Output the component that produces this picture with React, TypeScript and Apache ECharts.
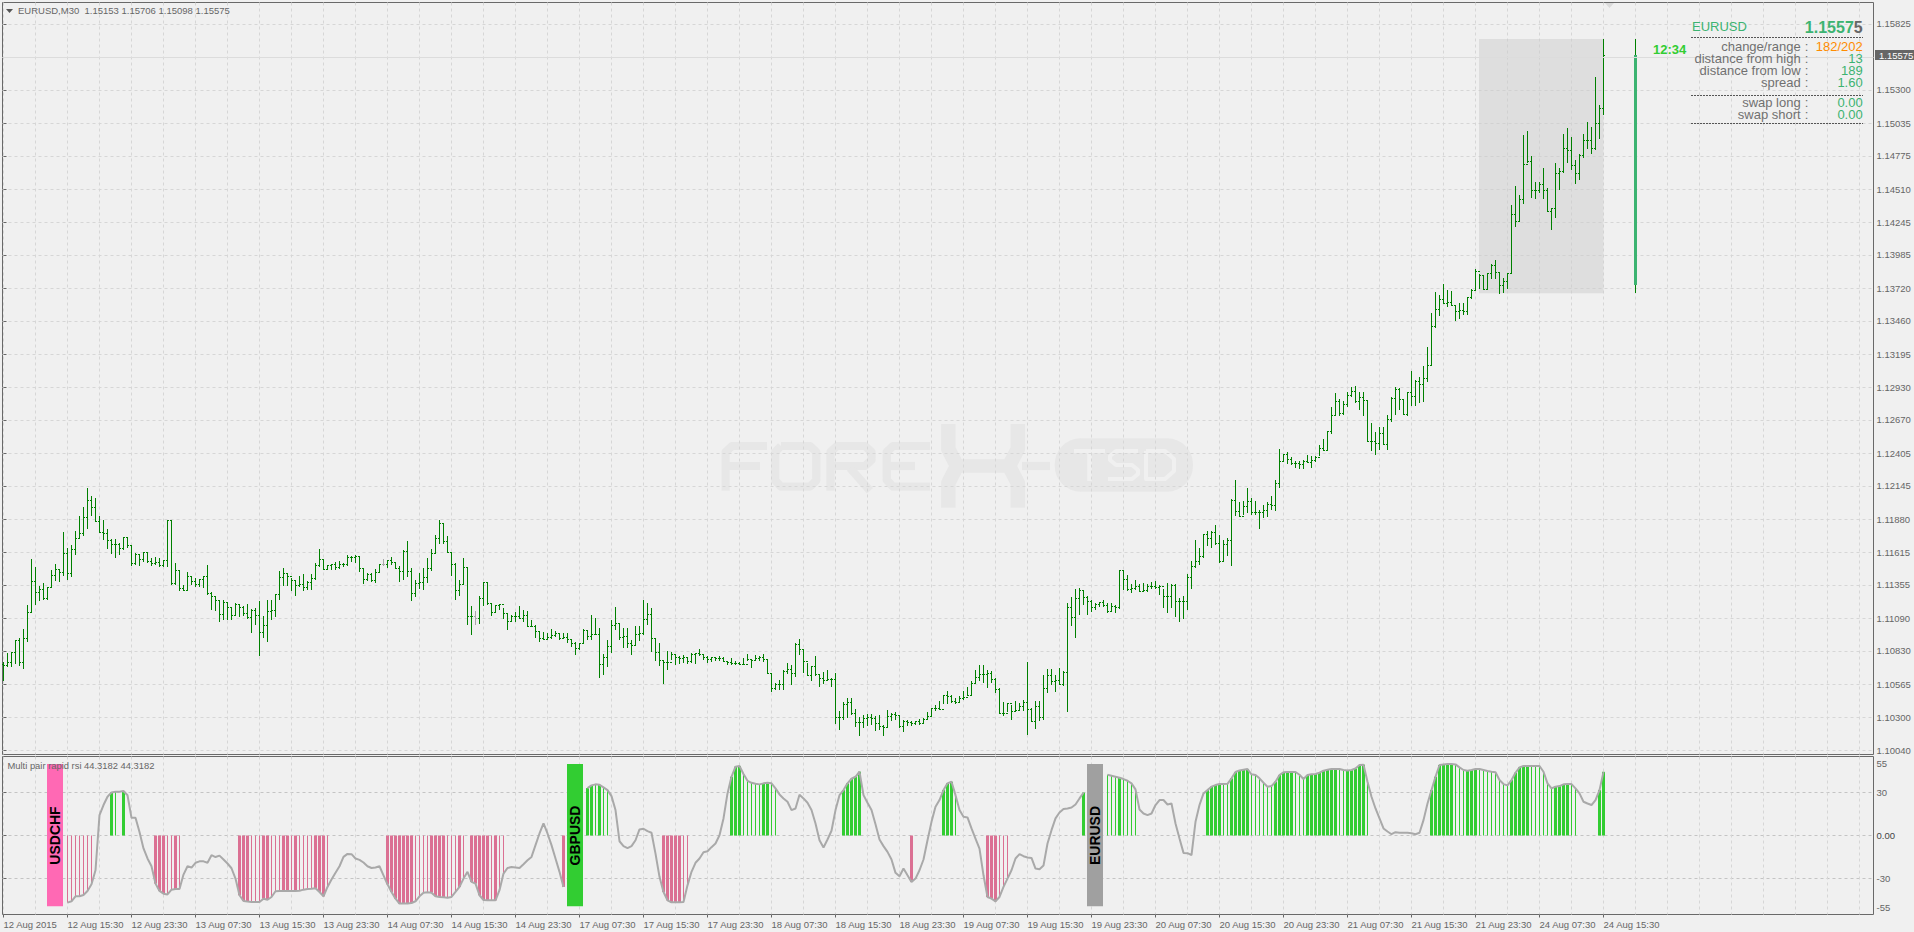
import React, { useEffect, useRef } from "react";
import * as echarts from "echarts";

const FONT = '"Liberation Sans", Arial, sans-serif';
const PRICE_BASE = 1.1; // bar arrays are in points (1e-5) above this level

const barOpen = [
720,714,735,820,913,735,926,1138,1384,1292,
1318,1244,1334,1429,1477,1458,1602,1450,1636,1729,
1768,1896,2031,1975,1861,1776,1768,1708,1681,1676,
1649,1731,1668,1530,1596,1562,1615,1543,1530,1535,
1511,1549,1869,1363,1469,1331,1310,1419,1384,1358,
1397,1419,1284,1265,1228,1117,1212,1172,1111,1199,
1172,1127,1093,1151,1111,979,1032,1143,1148,1281,
1411,1443,1419,1387,1350,1358,1339,1371,1408,1509,
1562,1477,1509,1519,1498,1519,1517,1572,1572,1583,
1488,1397,1440,1390,1458,1517,1517,1551,1538,1490,
1466,1623,1461,1286,1366,1376,1411,1490,1609,1729,
1843,1702,1617,1522,1313,1360,1493,1106,1101,1087,
1244,1377,1207,1133,1193,1199,
1130,1066,1101,1103,1088,1114,1024,1024,984,
926,923,939,955,966,931,939,923,886,852,
886,995,944,963,963,725,778,865,1029,1045,
934,944,892,870,958,971,1077,1122,931,820,
751,738,738,799,780,772,780,746,799,807,
804,780,764,775,772,772,748,738,733,727,
725,725,759,754,772,778,759,653,534,560,
560,666,679,653,884,838,746,637,706,642,
613,595,605,605,303,303,401,420,335,263,
263,295,303,290,250,229,216,309,322,319,
229,271,256,250,269,250,287,309,367,367,
362,473,468,428,420,454,462,473,573,621,
640,645,648,605,520,335,335,409,348,356,
383,420,362,269,388,303,534,632,587,592,
560,661,1178,1098,1244,1308,1257,1223,1178,1196,
1215,1195,1145,1182,1174,1471,1399,1320,1325,1346,
1306,1314,1341,1346,1333,1346,1266,1266,1351,1227,
1221,1227,1412,1500,1545,1584,1757,1725,1775,1685,
1539,1677,1712,2027,1942,1902,1982,2022,1929,1929,
1929,1950,1995,1987,2160,2340,2393,2358,2326,2326,
2313,2340,2334,2348,2374,2446,2427,2578,2708,2819,
2724,2790,2862,2896,2814,2851,2822,2501,2501,2485,
2565,2472,2676,2843,2915,2835,2716,2888,2856,2976,
2949,3002,3103,3413,3551,3630,3598,3606,3583,3538,
3540,3535,3644,3704,3850,3824,3710,3837,3904,3843,
3745,3772,3838,4311,4250,4430,4707,4728,4502,4502,
4550,4502,4329,4353,4635,4648,4829,4821,4701,4635,
4781,4900,4900,4834,5033,5153];

const barHigh = [
740,814,822,915,934,1005,1199,1562,1498,1344,
1371,1334,1477,1522,1477,1779,1649,1676,1787,1906,
1975,2129,2065,2049,1906,1869,1803,1721,1721,1689,
1731,1737,1668,1609,1596,1617,1609,1567,1578,1570,
1556,1874,1874,1530,1464,1358,1458,1424,1411,1397,
1429,1517,1297,1270,1238,1233,1212,1180,1212,1207,
1185,1207,1164,1172,1231,1111,1233,1233,1286,1464,
1490,1445,1411,1397,1429,1445,1384,1445,1530,1641,
1562,1517,1525,1535,1546,1530,1594,1583,1596,1578,
1490,1450,1450,1485,1522,1562,1551,1578,1535,1503,
1636,1708,1490,1392,1450,1488,1570,1641,1755,1869,
1843,1742,1617,1530,1397,1570,1498,1191,1148,1265,
1379,1377,1212,1199,1204,
1170,1130,1117,1143,1188,1156,1151,1077,1037,990,
984,971,1005,992,971,971,976,918,897,892,
1005,990,1117,1090,1016,807,918,1077,1178,1051,
1011,1011,913,1029,1029,1236,1209,1170,931,892,
759,831,825,807,791,799,780,817,817,844,
799,786,780,780,786,780,748,772,746,738,
772,807,764,799,786,804,764,653,573,600,
674,733,719,892,926,838,733,711,791,648,
658,679,613,653,348,420,454,454,367,303,
322,327,327,309,322,242,362,335,340,322,
282,282,269,274,287,295,340,375,401,428,
481,507,481,454,468,507,539,587,679,717,
719,679,666,613,534,420,415,401,428,415,
441,740,375,428,428,640,685,685,640,693,
666,1209,1257,1323,1329,1310,1268,1236,1215,1223,
1232,1208,1214,1192,1473,1473,1431,1359,1391,1359,
1367,1359,1378,1383,1351,1320,1367,1359,1359,1248,
1266,1439,1550,1712,1651,1765,1783,1783,1836,1757,
1712,1730,2040,2194,2014,2022,2125,2048,2022,1955,
1995,2014,2067,2189,2438,2393,2414,2372,2340,2340,
2348,2393,2380,2380,2467,2520,2578,2772,2888,2835,
2822,2896,2936,2941,2896,2896,2822,2644,2578,2613,
2613,2711,2849,2931,2923,2835,2896,3061,2989,3015,
3100,3249,3519,3686,3665,3752,3704,3697,3585,3604,
3598,3646,3710,3869,3832,3824,3842,
3910,3944,3851,3798,3843,
4383,4534,4462,4940,4972,4773,4568,4563,4675,4515,
4356,4715,4675,4946,4993,4927,4741,4789,4948,5047,
5007,5400,5179,5706];

const barLow = [
589,701,701,727,708,687,899,1138,1199,1225,
1238,1233,1331,1384,1376,1424,1397,1416,1596,1729,
1742,1803,1901,1856,1774,1715,1644,1604,1567,1596,
1636,1647,1509,1517,1509,1535,1530,1509,1517,1498,
1498,1498,1358,1358,1305,1305,1305,1358,1339,1339,
1331,1278,1159,1146,1058,1074,1079,1079,1106,1101,
1111,1085,973,1040,788,934,899,1079,1101,1233,
1350,1350,1305,1265,1339,1305,1318,1313,1397,1498,
1472,1477,1477,1472,1482,1498,1503,1535,1530,1456,
1366,1390,1376,1371,1450,1503,1493,1517,1488,1382,
1397,1419,1225,1260,1323,1313,1371,1464,1604,1684,
1684,1615,1429,1238,1265,1358,1040,960,1034,1048,
1185,1199,1106,1133,1154,
1088,997,1064,1064,1082,1061,1024,1019,931,897,
918,923,923,939,918,923,892,860,799,838,
886,913,918,958,611,640,701,817,997,913,
852,852,799,865,905,958,1037,825,746,706,
568,679,754,719,727,733,727,733,727,786,
759,733,738,746,746,738,719,719,714,717,
714,746,695,746,746,738,653,499,515,515,
515,648,560,619,799,653,626,587,632,542,
568,600,539,250,202,282,295,322,224,155,
216,229,242,189,202,155,216,269,282,216,
181,229,234,242,242,250,282,309,348,356,
409,409,415,409,420,441,468,473,568,587,
573,534,573,494,335,309,340,282,340,348,
348,163,269,210,274,282,494,560,499,560,
552,340,1029,931,1117,1194,1117,1143,1156,1178,
1182,1134,1139,1129,1166,1314,1306,1293,1314,1298,
1298,1298,1325,1325,1272,1174,1134,1174,1102,1060,
1081,1155,1320,1492,1518,1571,1664,1651,1677,1531,
1537,1590,1505,1902,1897,1916,1929,1916,1916,1804,
1889,1897,1955,1942,2128,2340,2321,2313,2287,2279,
2279,2326,2287,2332,2380,2419,2419,2560,2703,2703,
2708,2777,2856,2809,2750,2703,2499,2419,2387,2432,
2472,2427,2650,2711,2750,2711,2703,2782,2785,2803,
2817,2976,3103,3400,3500,3593,3572,3577,3461,3474,
3506,3506,3630,3704,3710,3710,3710,
3790,3790,3673,3679,3711,
3838,4210,4250,4391,4715,4436,4428,4476,4428,4324,
4183,4282,4502,4640,4715,4661,4550,4582,4754,4826,
4786,4821,4908,5098];

const barClose = [
714,735,820,913,735,926,1138,1384,1292,1318,
1244,1334,1429,1477,1458,1602,1450,1636,1729,1768,
1896,2031,1975,1861,1776,1768,1708,1681,1676,1649,
1731,1668,1530,1596,1562,1615,1543,1530,1535,1511,
1549,1869,1363,1469,1331,1310,1419,1384,1358,1397,
1419,1284,1265,1228,1117,1212,1172,1111,1199,1172,
1127,1093,1151,1111,979,1032,1143,1148,1281,1411,
1443,1419,1387,1350,1358,1339,1371,1408,1509,1562,
1477,1509,1519,1498,1519,1517,1572,1572,1583,1488,
1397,1440,1390,1458,1517,1517,1551,1538,1490,1466,
1623,1461,1286,1366,1376,1411,1490,1609,1729,1843,
1702,1617,1522,1313,1360,1493,1106,1101,1087,1244,
1377,1207,1133,1193,1199,
1130,1066,1101,1103,1088,1114,1024,1024,984,926,
923,939,955,966,931,939,923,886,852,886,
995,944,963,963,725,778,865,1029,1045,934,
944,892,870,958,971,1077,1122,931,820,751,
738,738,799,780,772,780,746,799,807,804,
780,764,775,772,772,748,738,733,727,725,
725,759,754,772,778,759,653,534,560,560,
666,679,653,884,838,746,637,706,642,613,
595,605,605,303,303,401,420,335,263,263,
295,303,290,250,229,216,309,322,319,229,
271,256,250,269,250,287,309,367,367,362,
473,468,428,420,454,462,473,573,621,640,
645,648,605,520,335,335,409,348,356,383,
420,362,269,388,303,534,632,587,592,560,
661,1178,1098,1244,1308,1257,1223,1178,1196,1215,
1195,1145,1182,1174,1471,1399,1320,1325,1346,1306,
1314,1341,1346,1333,1346,1266,1266,1351,1227,1221,
1227,1412,1500,1545,1584,1757,1725,1775,1685,1539,
1677,1712,2027,1942,1902,1982,2022,1929,1929,1929,
1950,1995,1987,2160,2340,2393,2358,2326,2326,2313,
2340,2334,2348,2374,2446,2427,2578,2708,2819,2724,
2790,2862,2896,2814,2851,2822,2501,2501,2485,2565,
2472,2676,2843,2915,2835,2716,2888,2856,2976,2949,
3002,3103,3413,3551,3630,3598,3606,3583,3538,3540,
3535,3644,3704,3850,3824,3710,3837,
3904,3843,3745,3772,3838,
4311,4250,4430,4707,4728,4502,4502,4550,4502,4329,
4353,4635,4648,4829,4821,4701,4635,4781,4900,4900,
4834,5033,5153,5575];

const neutralBars = [95, 118];

const rsiValues = [
null,null,null,null,null,null,null,null,null,null,null,null,null,null,null,null,
-46.7,-45.8,-42.3,-42.3,-41.4,-38.6,-34,-24.2,14.2,21.2,27,30,30.5,30.5,31,28,12.3,12.3,2.5,-9,
-16,-21.4,-33.5,-38.6,-40.5,-41,-37.7,-37.2,-37.2,-27.2,-21.4,-22.3,-19,-18,-18,-19,-13.7,-15,-14,-16.7,
-19.5,-22.8,-30,-41.6,-45.6,-46,-46.3,-46.3,-46.3,-44,-44.7,-42.8,-38.8,-38.6,-38.6,-38.6,-38.6,-38.6,-38.4,-37.7,
-37.2,-37,-36.7,-39.3,-42.3,-35.8,-30.7,-26,-21.4,-14.9,-12.8,-13,-16,-17,-18.8,-21.4,-22.6,-22.3,-21.4,-27.7,
-34,-39.3,-44,-47.4,-47.4,-47.4,-47,-45.8,-42.3,-39.8,-39.5,-39.8,-42.3,-42.8,-43,-43.3,-42.8,-39.3,-35.8,-30,
-25.3,-32.3,-33.5,-41.6,-44.9,-45.1,-45.1,-45.1,-38.1,-26.5,-22.6,-22,-22.3,-22.6,-20,-17.2,-14.9,-6.7,1.4,8.4,
1.4,-6.7,-16,-25.3,-35.8,
null,null,null,null,null,
33,34.9,35.6,35.3,33.5,31.6,27.4,17.7,-4,-7.4,-8.8,-7.4,-3.3,4.2,4.7,3,1.9,-12.6,-28.8,
-39.3,-45.1,-46.5,-46.5,-46.5,-46.3,-34.7,-25.3,-19,-16,-11.6,-11,-8.1,-5.6,0.2,11.9,29.3,
40.9,47.9,48.4,42.8,38.1,36.7,36,35.6,36.3,36.7,36.3,32.8,28.6,25.8,23.5,17.7,18.8,28.4,25.8,22.8,
17.7,8.4,-3.3,-8.4,-2.8,3.3,17.7,28.1,31.6,36.3,39.5,40.9,44.4,28.1,22.8,17.7,7.9,-2.8,-7.4,-11.4,
-16.7,-26,-28.4,-23,-27.7,-32.3,-30,-24.2,-16.7,-3.3,9.5,20,24.7,31.6,36.3,37.4,28.1,17.7,13,12.6,
4.9,-2.1,-9.1,-27.7,-42.8,-44,-45.8,-42.8,-35.8,-30,-24.2,-16,-13,-14.4,-15.3,-15.6,-23,-23.5,-20.9,-5.6,
3.7,11.9,16,18.4,18.8,19.5,21.6,25.8,29.8,
null,null,null,null,null,
42.3,41.6,40.9,40.2,39.3,38.1,36.3,32.1,18.1,15.3,14.2,15.3,21.2,24.7,24.7,21.6,22.3,8.4,-2.1,-12.1,
-12.3,-13.7,9.5,21.2,29.3,31.6,34,35.1,35.8,35.8,36,39.8,44.2,45.3,45.8,46.3,42.6,42.1,39.8,36.7,
34,34.4,37.4,42.1,44,44.2,44.2,44.2,42.3,39.3,42.1,42.6,42.8,43.7,45.1,45.8,46.3,46.3,46.3,45.6,
45.3,45.6,46.7,49.1,49.3,37.4,27,18.8,11.9,4.9,2.8,0.9,2.3,1.9,1.9,1.9,1.6,0.9,1.9,10.7,
22.3,31.6,40.9,49.1,49.5,49.8,49.8,49.5,47.4,45.6,45.1,45.6,46.3,46.3,45.6,44.9,44.4,44,38.6,35.8,
34.9,38.6,43.7,47.4,48.4,48.4,48.4,48.4,48.4,44.4,36.3,32.8,34,34.4,35.6,35.8,35.8,32.8,29.3,23.5,
22.3,21.2,24.7,31.6,44.3182];

// signal histogram: runs of bar indexes [first, last]
const pinkThickRuns = [[38,40],[43,43],[59,61],[65,66],[70,71],[73,73],[78,80],[96,102],[107,110],[114,114],[117,121],[123,123],[140,140],[165,169],[227,227],[246,248]];
const pinkThinRuns = [[16,22],[41,42],[44,44],[62,64],[67,69],[72,72],[74,77],[81,81],[103,106],[111,113],[115,115],[122,122],[124,125],[170,171],[249,251]];
const greenThickRuns = [[27,27],[30,30],[146,147],[149,149],[182,184],[190,191],[210,214],[235,237],[270,270],[279,279],[301,304],[307,311],[318,322],[326,333],[336,340],[357,362],[366,368],[377,381],[388,391],[399,400]];
const greenThinRuns = [[28,28],[148,148],[150,151],[185,189],[192,193],[238,238],[276,278],[280,283],[305,306],[312,317],[323,325],[334,335],[341,341],[363,365],[369,376],[382,387],[392,393]];

const pairTagNames = ["USDCHF", "GBPUSD", "EURUSD"];
const pairTagBars = [11, 141, 271];
const pairTagColors = ["#FF69B4", "#32CD32", "#A0A0A0"];

const priceTicks = [1.15825,1.15562,1.153,1.15035,1.14775,1.1451,1.14245,1.13985,1.1372,1.1346,1.13195,1.1293,1.1267,1.12405,1.12145,1.1188,1.11615,1.11355,1.1109,1.1083,1.10565,1.103,1.1004];
const priceLabelTicks = priceTicks.filter((p) => p !== 1.15562);
const rsiTicks = [-55, -30, 0, 30, 55];
const timeTickBars = [0,16,32,48,64,80,96,112,128,144,160,176,192,208,224,240,256,272,288,304,320,336,352,368,384,400];
const timeTickLabels = ["12 Aug 2015","12 Aug 15:30","12 Aug 23:30","13 Aug 07:30","13 Aug 15:30","13 Aug 23:30","14 Aug 07:30","14 Aug 15:30","14 Aug 23:30","17 Aug 07:30","17 Aug 15:30","17 Aug 23:30","18 Aug 07:30","18 Aug 15:30","18 Aug 23:30","19 Aug 07:30","19 Aug 15:30","19 Aug 23:30","20 Aug 07:30","20 Aug 15:30","20 Aug 23:30","21 Aug 07:30","21 Aug 15:30","21 Aug 23:30","24 Aug 07:30","24 Aug 15:30"];
const gridBars = [0,8,16,24,32,40,48,56,64,72,80,88,96,104,112,120,128,136,144,152,160,168,176,184,192,200,208,216,224,232,240,248,256,264,272,280,288,296,304,312,320,328,336,344,352,360,368,376,384,392,400,408,416,424,432,440,448,456,464];

const lastPrice = 1.15575;
const bidLevel = 1.15562;
const dayHigh = 1.15706;
const dayLow = 1.13679;
const dayOpen = 1.13745;
const dayClose = 1.15575;
const dayBarIndex = 408;
const dayRangeFromBar = 368.875;
const dayRangeToBar = 400;

const chartTitle = "EURUSD,M30  1.15153 1.15706 1.15098 1.15575";
const subTitle = "Multi pair rapid rsi 44.3182 44.3182";
const countdown = "12:34";
const panelRows = [
  ["change/range", "182/202", "#FF8C00"],
  ["distance from high", "13", "#3CB371"],
  ["distance from low", "189", "#3CB371"],
  ["spread", "1.60", "#3CB371"],
  ["swap long", "0.00", "#3CB371"],
  ["swap short", "0.00", "#3CB371"],
];

const pt = (v: number) => PRICE_BASE + v / 100000;
const snap = (v: number) => Math.round(v - 0.5) + 0.5;
const X_MIN = -0.25;
const X_MAX = 467.5;
const GREEN = "#008000";
const GRID_COLOR = "#D6D6D6";
const TEXT_COLOR = "#666666";

const expand = (runs: number[][]) => {
  const m: number[] = [];
  runs.forEach(([a, b]) => { for (let i = a; i <= b; i++) m.push(i); });
  return m;
};

const histData: any[] = [];
const addHist = (runs: number[][], kind: number, thick: number) =>
  expand(runs).forEach((i) => histData.push([i, rsiValues[i], kind, thick]));
addHist(pinkThickRuns, 0, 1);
addHist(pinkThinRuns, 0, 0);
addHist(greenThickRuns, 1, 1);
addHist(greenThinRuns, 1, 0);

const ohlcData = barClose.map((c, i) => [i, pt(barOpen[i]), pt(barHigh[i]), pt(barLow[i]), pt(c), neutralBars.includes(i) ? 1 : 0]);

const lineEl = (x1: number, y1: number, x2: number, y2: number, stroke: string, lineWidth = 1) => ({
  type: "line", shape: { x1, y1, x2, y2 }, style: { stroke, lineWidth },
});

const renderOhlc = (_p: any, api: any) => {
  const i = api.value(0);
  const x = snap(api.coord([i, api.value(1)])[0]);
  const yO = snap(api.coord([i, api.value(1)])[1]);
  const yH = Math.round(api.coord([i, api.value(2)])[1]);
  const yL = Math.round(api.coord([i, api.value(3)])[1]);
  const yC = snap(api.coord([i, api.value(4)])[1]);
  const col = api.value(5) ? "#A8A8A8" : GREEN;
  return {
    type: "group",
    children: [
      lineEl(x, yH, x, yL, col),
      lineEl(x - 1.5, yO, x + 0.5, yO, col),
      lineEl(x - 0.5, yC, x + 1.5, yC, col),
    ],
  };
};

const renderHist = (_p: any, api: any) => {
  const i = api.value(0);
  const [cx, y0] = api.coord([i, 0]);
  const y1 = api.coord([i, api.value(1)])[1];
  const thick = api.value(3);
  const w = thick ? 3 : 1;
  const x = Math.round(cx - 0.5) + (thick ? -1 : 0);
  return {
    type: "rect",
    shape: { x, y: Math.min(y0, y1), width: w, height: Math.abs(y1 - y0) },
    style: { fill: api.value(2) ? "#32CD32" : "#DB7093" },
  };
};

const renderTag = (_p: any, api: any) => {
  const idx = api.value(0);
  const [cx, yTop] = api.coord([idx, 49.8]);
  const yBot = api.coord([idx, -49.2])[1];
  const x = Math.round(cx - 0.5);
  const color = pairTagColors[idx === 11 ? 0 : idx === 141 ? 1 : 2];
  const name = pairTagNames[idx === 11 ? 0 : idx === 141 ? 1 : 2];
  return {
    type: "group",
    children: [
      { type: "rect", shape: { x, y: yTop, width: 16, height: yBot - yTop }, style: { fill: color } },
      {
        type: "text", x: x + 8, y: api.coord([idx, 0])[1], rotation: Math.PI / 2,
        style: { text: name, fill: "#000", font: `bold 14px ${FONT}`, align: "center", verticalAlign: "middle", textAlign: "center", textVerticalAlign: "middle" },
      },
    ],
  };
};

const renderDay = (_p: any, api: any) => {
  const i = api.value(0);
  const x = snap(api.coord([i, api.value(1)])[0]);
  const yH = Math.round(api.coord([i, api.value(2)])[1]);
  const yL = Math.round(api.coord([i, api.value(3)])[1]);
  const yA = Math.round(api.coord([i, api.value(4)])[1]);
  const yB = Math.round(api.coord([i, api.value(1)])[1]);
  return {
    type: "group",
    children: [
      lineEl(x, yH, x, yL, GREEN),
      { type: "rect", shape: { x: x - 1.5, y: yA, width: 3, height: yB - yA }, style: { fill: "#3CB371" } },
    ],
  };
};

const renderBid = (_p: any, api: any) => {
  const yLine = snap(api.coord([0, api.value(0)])[1]);
  const yTag = api.coord([0, api.value(1)])[1];
  const xL = api.coord([X_MIN, api.value(0)])[0];
  const xR = api.coord([X_MAX, api.value(0)])[0];
  return {
    type: "group",
    children: [
      lineEl(xL, yLine, xR, yLine, "#DCDCDC"),
      { type: "rect", shape: { x: xR + 1.5, y: Math.round(yTag) - 5, width: 40, height: 10 }, style: { fill: "#666666" } },
      {
        type: "text", x: xR + 5.5, y: Math.round(yTag),
        style: { text: lastPrice.toFixed(5), fill: "#FFFFFF", font: `9.5px ${FONT}`, align: "left", verticalAlign: "middle", textAlign: "left", textVerticalAlign: "middle" },
      },
    ],
  };
};

const text = (x: number, y: number, t: string, fill: string, font: string, align = "left", z = 50) => ({
  type: "text", x, y, z, silent: true,
  style: { text: t, fill, font, align, verticalAlign: "middle", textAlign: align, textVerticalAlign: "middle" },
});

const WM = "#E7E7E7";
const wm = (points: number[][], lineWidth = 8.2, stroke = WM) => ({
  type: "polyline", z: -1, silent: true, shape: { points },
  style: { stroke, lineWidth, fill: "none", lineJoin: "round", lineCap: "butt" },
});

const watermark = [
  wm([[725.6, 490.7], [725.6, 452], [732, 446], [767, 446]]),
  wm([[725.6, 466], [760, 466]]),
  wm([[781, 446], [810, 446], [816.3, 452], [816.3, 480.5], [810, 486.6], [781, 486.6], [775.2, 480.5], [775.2, 452], [781, 446]]),
  wm([[830.5, 490.7], [830.5, 452], [837, 446], [865, 446], [871.5, 452], [871.5, 460], [865, 466], [830.5, 466]]),
  wm([[850, 468], [870, 490.7]]),
  wm([[930, 446], [893, 446], [886.7, 452], [886.7, 480], [893, 486.6], [930, 486.6]]),
  wm([[886.7, 466], [915, 466]]),
  wm([[948.3, 424], [948.3, 449], [957, 466], [948.3, 483], [948.3, 507.7]], 14.5),
  wm([[1017.8, 424], [1017.8, 449], [1009, 466], [1017.8, 483], [1017.8, 507.7]], 14.5),
  wm([[952, 466], [1014, 466]], 13.4),
  wm([[1022, 466], [1050, 466]]),
  { type: "rect", z: -1, silent: true, shape: { x: 1054.7, y: 438.3, width: 138.3, height: 53.4, r: 26 }, style: { fill: WM } },
  wm([[1074, 451], [1105, 451]], 4, "#F0F0F0"),
  wm([[1089.5, 451], [1089.5, 481]], 4.5, "#F0F0F0"),
  wm([[1138, 451], [1116, 451], [1110, 456], [1110, 460], [1116, 465], [1132, 465], [1138, 470], [1138, 474], [1132, 479], [1108, 479]], 4, "#F0F0F0"),
  wm([[1146, 451], [1165, 451], [1174, 459], [1174, 471], [1165, 479], [1146, 479], [1146, 451]], 4, "#F0F0F0"),
];

const panelFont = `13px ${FONT}`;
const dashed = (y: number) => ({
  type: "line", z: 50, silent: true, shape: { x1: 1691, y1: y, x2: 1863, y2: y },
  style: { stroke: "#555555", lineWidth: 1, lineDash: [2, 1] },
});
const panelYs = [46.7, 58.7, 70.7, 82.7, 102.7, 114.7];
const panel: any[] = [];
panelRows.forEach((r, i) => {
  panel.push(text(1800.7, panelYs[i], r[0], "#707070", panelFont, "right"));
  panel.push(text(1806.5, panelYs[i], ":", "#707070", panelFont, "center"));
  panel.push(text(1862.7, panelYs[i], r[1], r[2], panelFont, "right"));
});

const graphics = [
  ...watermark,
  { type: "polygon", z: 50, silent: true, shape: { points: [[6, 9], [13, 9], [9.5, 13]] }, style: { fill: "#555555" } },
  { type: "polygon", z: 50, silent: true, shape: { points: [[1605, 3], [1614, 3], [1609.5, 8]] }, style: { fill: "#DADADA" } },
  text(18, 10.5, chartTitle, TEXT_COLOR, `9.5px ${FONT}`),
  text(7.5, 765, subTitle, TEXT_COLOR, `9.4px ${FONT}`),
  text(1653, 49.5, countdown, "#32CD32", `bold 13px ${FONT}`),
  text(1692, 26.5, "EURUSD", "#3CB371", `13px ${FONT}`),
  {
    type: "text", x: 1862.7, y: 27, z: 50, silent: true,
    style: {
      text: "{a|1.1557}{b|5}", align: "right", verticalAlign: "middle", textAlign: "right", textVerticalAlign: "middle",
      rich: {
        a: { fill: "#3CB371", font: `bold 16px ${FONT}` },
        b: { fill: "#666666", font: `bold 16px ${FONT}` },
      },
    },
  },
  dashed(37.5),
  dashed(95.5),
  dashed(123.5),
  ...panel,
];

const option: any = {
  animation: false,
  backgroundColor: "#F0F0F0",
  textStyle: { fontFamily: FONT },
  graphic: { elements: graphics },
  grid: [
    { left: 2.5, top: 2.5, width: 1871, height: 752, show: true, borderColor: "#696969", borderWidth: 1, backgroundColor: "transparent" },
    { left: 2.5, top: 756.5, width: 1871, height: 158, show: true, borderColor: "#696969", borderWidth: 1, backgroundColor: "transparent" },
  ],
  xAxis: [
    {
      type: "value", gridIndex: 0, min: X_MIN, max: X_MAX, position: "bottom",
      axisLine: { show: false }, axisLabel: { show: false },
      axisTick: { show: false, customValues: gridBars },
      splitLine: { show: true, lineStyle: { color: GRID_COLOR, type: [3, 3], width: 1 } },
    },
    {
      type: "value", gridIndex: 1, min: X_MIN, max: X_MAX, position: "bottom",
      axisLine: { show: false }, axisLabel: { show: false },
      axisTick: { show: false, customValues: gridBars },
      splitLine: { show: true, lineStyle: { color: GRID_COLOR, type: [3, 3], width: 1 } },
    },
    {
      type: "value", gridIndex: 1, min: X_MIN, max: X_MAX, position: "bottom",
      axisLine: { show: false },
      axisTick: { show: true, length: 3, customValues: timeTickBars, lineStyle: { color: "#666" } },
      splitLine: { show: false },
      axisLabel: {
        show: true, customValues: timeTickBars, align: "left", margin: 5, hideOverlap: false,
        color: TEXT_COLOR, fontFamily: FONT, fontSize: 9.5,
        formatter: (v: number) => timeTickLabels[timeTickBars.indexOf(v)] ?? "",
      },
    },
  ],
  yAxis: [
    {
      type: "value", gridIndex: 0, position: "right", min: 1.100044, max: 1.159963,
      axisLine: { show: false },
      axisTick: { show: true, length: 3, customValues: priceTicks, lineStyle: { color: "#666" } },
      splitLine: { show: true, lineStyle: { color: GRID_COLOR, type: [3, 3], width: 1 } },
      axisLabel: {
        show: true, customValues: priceLabelTicks, margin: 3, color: TEXT_COLOR, fontFamily: FONT, fontSize: 9.5,
        formatter: (v: number) => v.toFixed(5),
      },
    },
    {
      type: "value", gridIndex: 1, position: "right", min: -55, max: 55,
      axisLine: { show: false },
      axisTick: { show: true, length: 3, customValues: rsiTicks, lineStyle: { color: "#666" } },
      splitLine: { show: true, showMinLine: false, showMaxLine: false, lineStyle: { color: "#C4C4C4", type: [3, 3], width: 1 } },
      axisLabel: {
        show: true, customValues: rsiTicks, margin: 3, color: TEXT_COLOR, fontFamily: FONT, fontSize: 9.5,
        verticalAlignMinLabel: "bottom", verticalAlignMaxLabel: "top",
        formatter: (v: number) =>
          v === 0 ? "{z|0.00}" : v === 55 ? "{t|55}" : v === -55 ? "{b|-55}" : String(v),
        rich: {
          z: { color: "#444444", fontFamily: FONT, fontSize: 9.5 },
          t: { color: TEXT_COLOR, fontFamily: FONT, fontSize: 9.5, padding: [2, 0, 0, 0] },
          b: { color: TEXT_COLOR, fontFamily: FONT, fontSize: 9.5, padding: [0, 0, 2, 0] },
        },
      },
    },
  ],
  series: [
    {
      type: "custom", name: "EURUSD,M30", xAxisIndex: 0, yAxisIndex: 0, silent: true, clip: false,
      renderItem: renderOhlc, data: ohlcData, encode: { x: 0, y: [1, 2, 3, 4] },
      markArea: {
        silent: true, itemStyle: { color: "rgba(204,204,204,0.5)" },
        data: [[{ coord: [dayRangeFromBar, dayHigh] }, { coord: [dayRangeToBar, dayLow] }]],
      },
    },
    {
      type: "custom", name: "day", xAxisIndex: 0, yAxisIndex: 0, silent: true, clip: false,
      renderItem: renderDay, data: [[dayBarIndex, dayOpen, dayHigh, dayLow, dayClose]], encode: { x: 0, y: [1, 2, 3, 4] },
    },
    {
      type: "custom", name: "bid", xAxisIndex: 0, yAxisIndex: 0, silent: true, clip: false,
      renderItem: renderBid, data: [[bidLevel, lastPrice]], encode: { y: [0, 1] },
    },
    {
      type: "custom", name: "signal", xAxisIndex: 1, yAxisIndex: 1, silent: true,
      renderItem: renderHist, data: histData, encode: { x: 0, y: 1 },
    },
    {
      type: "line", name: "rsi", xAxisIndex: 1, yAxisIndex: 1, silent: true, showSymbol: false, smooth: false,
      connectNulls: false, z: 3,
      lineStyle: { color: "#A9A9A9", width: 2 },
      data: rsiValues.map((v, i) => [i, v]),
    },
    {
      type: "custom", name: "pairs", xAxisIndex: 1, yAxisIndex: 1, silent: true, z: 4,
      renderItem: renderTag, data: pairTagBars.map((b) => [b]), encode: { x: 0 },
    },
  ],
};

export default function App() {
  const ref = useRef<HTMLDivElement>(null);
  useEffect(() => {
    const chart = echarts.init(ref.current!, null, { renderer: "svg" });
    chart.setOption(option);
    return () => chart.dispose();
  }, []);
  return <div ref={ref} style={{ position: "fixed", left: 0, top: 0, width: 1914, height: 932 }} />;
}
